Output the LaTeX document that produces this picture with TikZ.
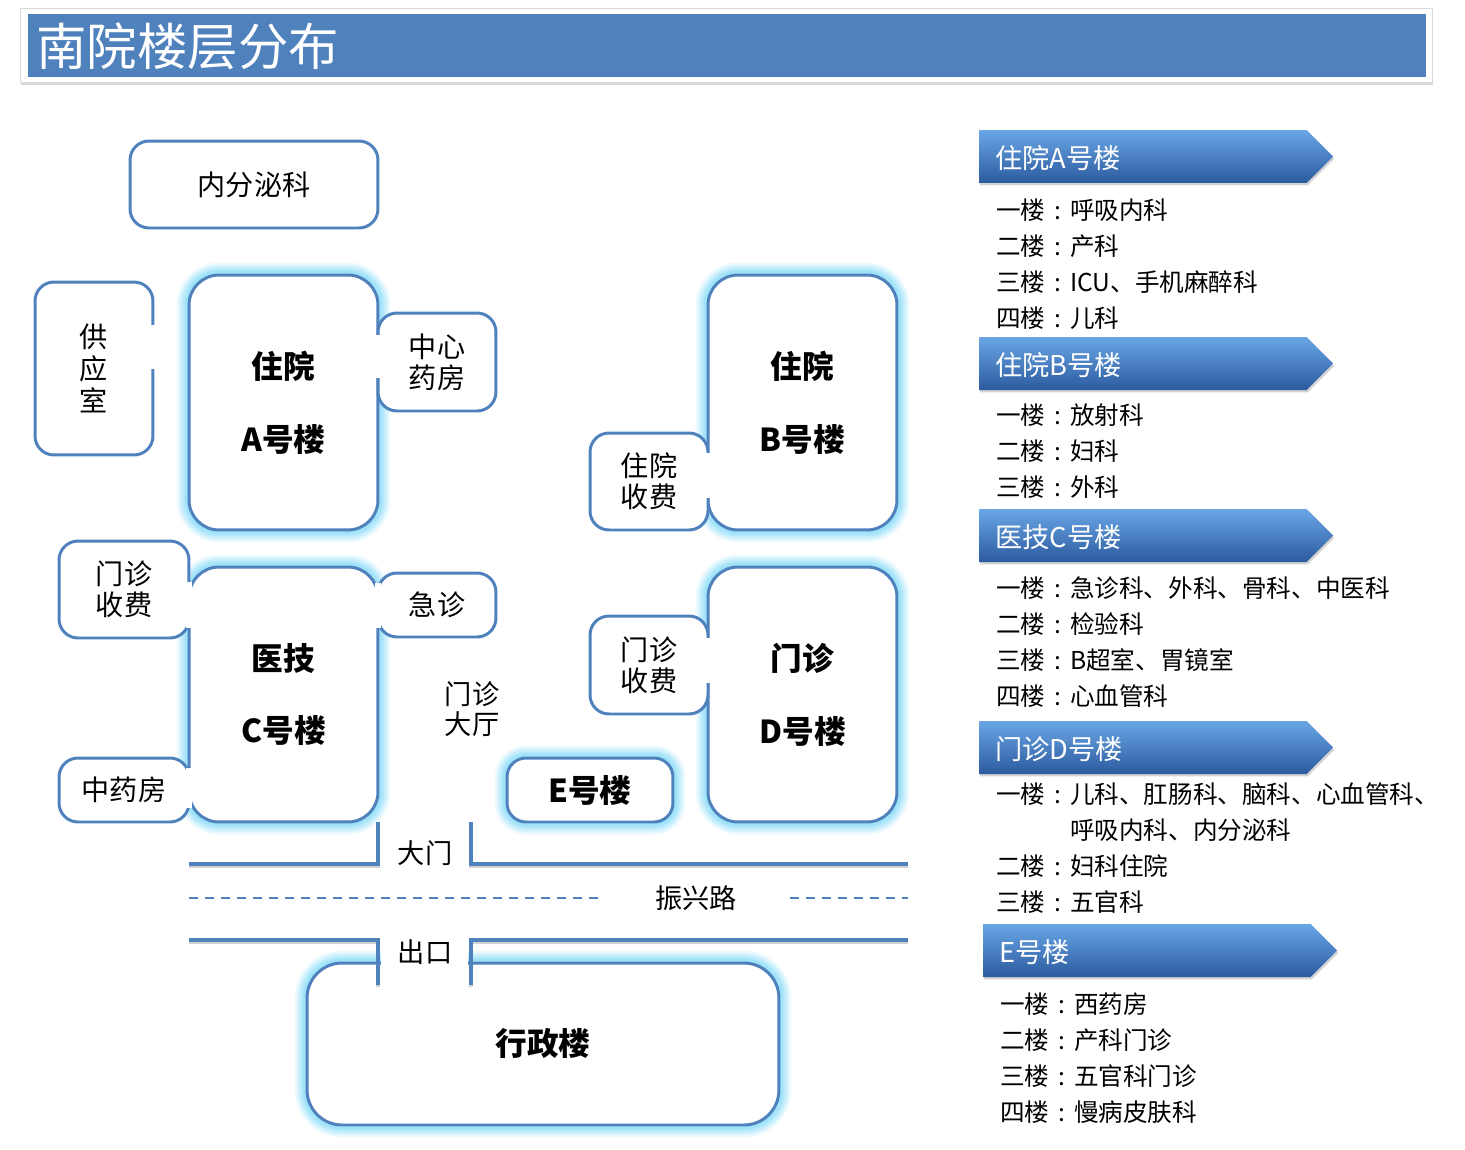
\documentclass[tikz,border=0pt]{standalone}
\usepackage{fontspec}
\setmainfont{Noto Sans CJK SC}
\usetikzlibrary{shapes.symbols, shadows}
\definecolor{planblue}{HTML}{4F81BD}
\definecolor{glowcyan}{HTML}{8EDDF8}
\definecolor{bantop}{HTML}{6AA6E6}
\definecolor{banmid}{HTML}{3B79C7}
\definecolor{banbot}{HTML}{2B5B9E}
\newcommand\flc{\makebox[1em]{:}}

\begin{document}
\begin{tikzpicture}[
    x=0.02cm, y=-0.02cm,
    glow/.style={preaction={draw=glowcyan, draw opacity=0.15, line width=0.5cm},
                 preaction={draw=glowcyan, draw opacity=0.2, line width=0.42cm},
                 preaction={draw=glowcyan, draw opacity=0.25, line width=0.34cm},
                 preaction={draw=glowcyan, draw opacity=0.35, line width=0.26cm},
                 preaction={draw=glowcyan, draw opacity=0.5, line width=0.18cm}},
    bldg/.style={rectangle, glow, draw=planblue, line width=1.7pt, fill=white, rounded corners=0.6cm, align=center, font=\bfseries\fontsize{18}{41.5}\selectfont},
    room/.style={rectangle, draw=planblue, line width=1.7pt, fill=white, rounded corners=0.38cm, align=center, font=\fontsize{16}{17.8}\selectfont},
    road/.style={draw=planblue, line width=2.3pt, preaction={draw=black!18, line width=2.3pt, transform canvas={yshift=-1.3pt}}},
    lane/.style={draw=planblue, line width=1.1pt, dash pattern=on 0.18cm off 0.14cm},
    street/.style={font=\fontsize{15.5}{17.5}\selectfont, align=center, inner sep=1pt},
    banner/.style={signal, signal to=east, signal pointer angle=90, minimum width=7.08cm, minimum height=1.06cm, inner sep=0pt, top color=bantop, middle color=banmid, bottom color=banbot, drop shadow={shadow xshift=0.5pt, shadow yshift=-1.4pt, opacity=0.35}},
    bantxt/.style={anchor=west, inner sep=0pt, xshift=0.32cm, yshift=-1pt, text=white, font=\fontsize{15.5}{17}\selectfont},
    floors/.style={anchor=north west, align=left, inner sep=0pt, font=\fontsize{14}{20.5}\selectfont}
  ]
  \useasboundingbox (0,0) rectangle (1465,1150);

  % title bar
  \fill[white, draw=black!15, drop shadow={shadow xshift=0.6pt, shadow yshift=-1.5pt, opacity=0.3}] (20,8) rectangle (1432,82);
  \fill[planblue] (28,14) rectangle (1426,77);
  \node[anchor=west, text=white, inner sep=0pt, font=\fontsize{28.7}{30}\selectfont] (title) at (36,46) {南院楼层分布};

  % buildings
  \node[bldg, minimum width=3.78cm, minimum height=5.1cm] (bldA) at (283.5,402.5) {住院\\A号楼};
  \node[bldg, minimum width=3.78cm, minimum height=5.1cm] (bldB) at (802.5,402.5) {住院\\B号楼};
  \node[bldg, minimum width=3.78cm, minimum height=5.1cm] (bldC) at (283.5,694.5) {医技\\C号楼};
  \node[bldg, minimum width=3.78cm, minimum height=5.1cm] (bldD) at (802.5,694.5) {门诊\\D号楼};
  \node[bldg, rounded corners=0.38cm, minimum width=3.32cm, minimum height=1.28cm] (bldE) at (590,790) {E号楼};
  \node[bldg, rounded corners=0.7cm, minimum width=9.44cm, minimum height=3.24cm] (admin) at (543,1044) {行政楼};

  % rooms
  \node[room, minimum width=4.96cm, minimum height=1.74cm] (endo) at (254,184.5) {内分泌科};
  \node[room, minimum width=2.36cm, minimum height=3.46cm, font=\fontsize{16}{18.2}\selectfont] (supply) at (94,368.5) {供\\应\\室};
  \node[room, minimum width=2.36cm, minimum height=1.96cm] (pharm) at (437,362) {中心\\药房};
  \node[room, minimum width=2.6cm, minimum height=1.94cm] (feeL) at (124,589.5) {门诊\\收费};
  \node[room, minimum width=2.36cm, minimum height=1.28cm] (emerg) at (437,605) {急诊};
  \node[room, minimum width=2.6cm, minimum height=1.28cm] (herb) at (124,790) {中药房};
  \node[room, minimum width=2.36cm, minimum height=1.94cm] (feeB) at (649,481.5) {住院\\收费};
  \node[room, minimum width=2.36cm, minimum height=1.96cm] (feeR) at (649,665) {门诊\\收费};
  \node[street] (hall) at (472,709) {门诊\\大厅};

  % doors
  \foreach \x/\ya/\yb in {153/325/369, 378/335/378, 189/582/628, 189/768/808, 378/583/628, 708/453/498, 708/638/683}
    \fill[white] (\x-3,\ya) rectangle (\x+3,\yb);
  \fill[white] (381,944) rectangle (468,972);

  % road
  \coordinate (gateL) at (378,822);
  \coordinate (gateR) at (471,822);
  \coordinate (exitL) at (378,985);
  \coordinate (exitR) at (471,985);
  \draw[road] (189,864) -- (378,864) -- (gateL);
  \draw[road] (gateR) -- (471,864) -- (908,864);
  \draw[road] (189,940) -- (378,940) -- (exitL);
  \draw[road] (exitR) -- (471,940) -- (908,940);
  \node[street] (gate) at (425,853) {大门};
  \node[street] (exit) at (425,952) {出口};
  \node[street] (street) at (696,898) {振兴路};
  \draw[lane] (189,898) -- (600,898);
  \draw[lane] (790,898) -- (908,898);

  % floor guide
  \node[banner, label={[bantxt]west:住院A号楼}] (banA) at (1143,156.5) {};
  \node[floors] (flA) at (996,198) {一楼\flc 呼吸内科\\二楼\flc 产科\\三楼\flc ICU、手机麻醉科\\四楼\flc 儿科};
  \node[banner, label={[bantxt]west:住院B号楼}] (banB) at (1143,363.5) {};
  \node[floors] (flB) at (996,403) {一楼\flc 放射科\\二楼\flc 妇科\\三楼\flc 外科};
  \node[banner, label={[bantxt]west:医技C号楼}] (banC) at (1143,535.5) {};
  \node[floors] (flC) at (996,576) {一楼\flc 急诊科、外科、骨科、中医科\\二楼\flc 检验科\\三楼\flc B超室、胃镜室\\四楼\flc 心血管科};
  \node[banner, label={[bantxt]west:门诊D号楼}] (banD) at (1143,747.5) {};
  \node[floors] (flD) at (996,782) {一楼\flc 儿科、肛肠科、脑科、心血管科、\\\phantom{一楼\flc}呼吸内科、内分泌科\\二楼\flc 妇科住院\\三楼\flc 五官科};
  \node[banner, label={[bantxt]west:E号楼}] (banE) at (1147,950.5) {};
  \node[floors] (flE) at (1000,992) {一楼\flc 西药房\\二楼\flc 产科门诊\\三楼\flc 五官科门诊\\四楼\flc 慢病皮肤科};
\end{tikzpicture}
\end{document}
